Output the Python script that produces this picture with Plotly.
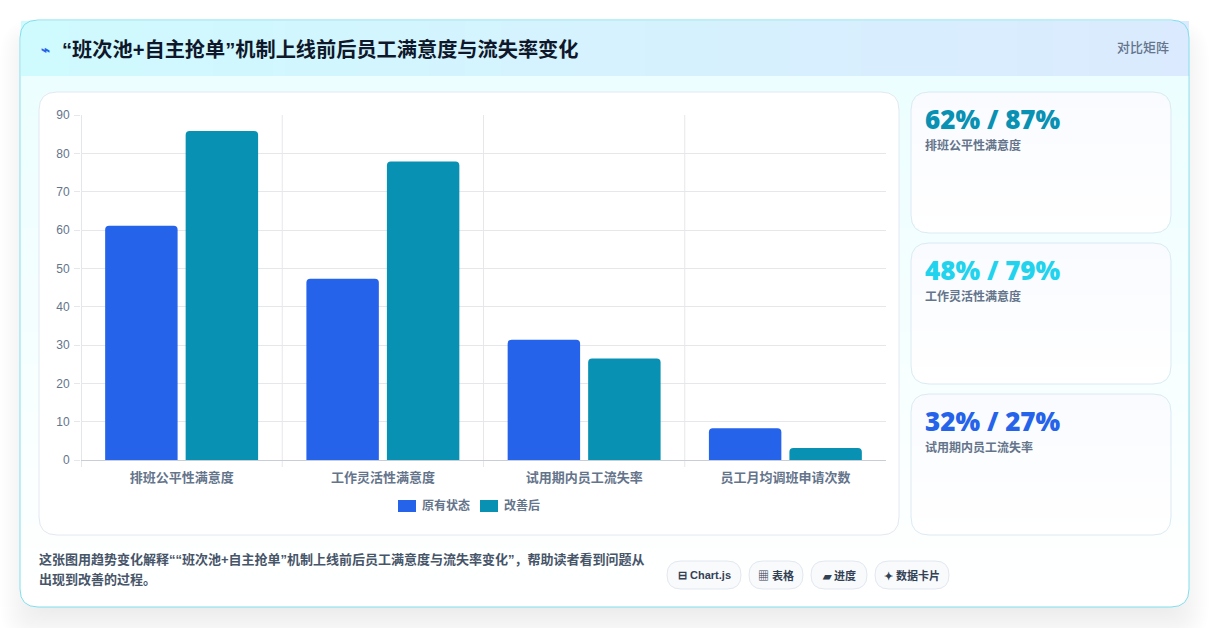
import plotly.graph_objects as go

W = 1210
H = 628

title = "“班次池+自主抢单”机制上线前后员工满意度与流失率变化"
badge = "对比矩阵"
note_lines = ["这张图用趋势变化解释““班次池+自主抢单”机制上线前后员工满意度与流失率变化”，帮助读者看到问题从", "出现到改善的过程。"]

categories = ["排班公平性满意度", "工作灵活性满意度", "试用期内员工流失率", "员工月均调班申请次数"]
before_name = "原有状态"
after_name = "改善后"
before = [61.1, 47.3, 31.4, 8.3]
after = [85.8, 77.9, 26.5, 3.1]
y_ticks = [0, 10, 20, 30, 40, 50, 60, 70, 80, 90]

card_values = ["62% / 87%", "48% / 79%", "32% / 27%"]
card_labels = ["排班公平性满意度", "工作灵活性满意度", "试用期内员工流失率"]
card_colors = ["#0891b2", "#22d3ee", "#2563eb"]
card_tops = [92, 243, 394]

chips = ["⊟ Chart.js", "▦ 表格", "▰ 进度", "✦ 数据卡片"]
chip_boxes = [(667, 741), (749, 803), (811, 867), (875, 949)]

CJK = "Liberation Sans, Noto Sans CJK SC, sans-serif"
BLUE = "#2563eb"
TEAL = "#0891b2"

shapes = []
annotations = []


def px(x):
    return x / W


def py(y):
    return 1 - y / H


def rounded(x0, y0, x1, y1, r):
    a, b, c, d = px(x0), py(y0), px(x1), py(y1)
    rx, ry = r / W, r / H
    return (f"M{a + rx},{b} L{c - rx},{b} Q{c},{b} {c},{b - ry} L{c},{d + ry} Q{c},{d} {c - rx},{d} "
            f"L{a + rx},{d} Q{a},{d} {a},{d + ry} L{a},{b - ry} Q{a},{b} {a + rx},{b} Z")


def box(x0, y0, x1, y1, r, fill="rgba(0,0,0,0)", line=None, opacity=1):
    shapes.append(dict(type="path", path=rounded(x0, y0, x1, y1, r), xref="paper", yref="paper",
                       fillcolor=fill, line=dict(color=line, width=1) if line else dict(width=0),
                       opacity=opacity, layer="below"))


def mix(c0, c1, t):
    a = [int(c0[i:i + 2], 16) for i in (1, 3, 5)]
    b = [int(c1[i:i + 2], 16) for i in (1, 3, 5)]
    return "rgb(%d,%d,%d)" % tuple(round(p + (q - p) * t) for p, q in zip(a, b))


def strip(x0, y0, x1, y1, color):
    shapes.append(dict(type="rect", x0=px(x0), x1=px(x1), y0=py(y0), y1=py(y1), xref="paper", yref="paper",
                       fillcolor=color, line=dict(width=0), layer="below"))


def vgrad(x0, y0, x1, y1, c0, c1, r=0, step=6):
    # css gradients are not available here, so stack thin strips and pull them in at the corners
    y = y0
    while y < y1:
        y2 = min(y + step, y1)
        mid = (y + y2) / 2
        t = (mid - y0) / (y1 - y0)
        inset = 0
        d = min(mid - y0, y1 - mid)
        if r and d < r:
            inset = r - (r * r - (r - d) ** 2) ** 0.5
        strip(x0 + inset, y, x1 - inset, y2, mix(c0, c1, t))
        y = y2


def hgrad(x0, y0, x1, y1, c0, c1, step=12):
    x = x0
    while x < x1:
        x2 = min(x + step, x1)
        strip(x, y0, x2, y1, mix(c0, c1, (x - x0) / (x1 - x0)))
        x = x2


def label(x, y, text, size, color, weight=400, anchor="left", family=CJK):
    annotations.append(dict(x=px(x), y=py(y), xref="paper", yref="paper", text=text, showarrow=False,
                            xanchor=anchor, yanchor="middle", align=anchor, borderpad=0, borderwidth=0,
                            font=dict(size=size, color=color, family=family, weight=weight)))


# soft shadow under the big card
for i in range(-20, 21, 2):
    box(20 - i, 38 - i, 1189 + i, 625 + i, 18 + max(i, 0), fill="#0f172a", opacity=0.0055)

# big card
box(20, 20, 1189, 607, 18, fill="#ffffff")
vgrad(21, 76, 1188, 592, "#ecfeff", "#ffffff", step=8)
vgrad(21, 592, 1188, 606.5, "#ffffff", "#ffffff", r=17, step=2)
hgrad(21, 21, 1189, 76, "#cffafe", "#dbeafe")
box(20, 20, 1189, 607, 18, line="#7fdfee")

# chart panel and side cards
box(39, 92, 899, 535, 18, fill="#ffffff", line="#e2e8f0")
for top in card_tops:
    vgrad(911, top, 1171, top + 141, "#f9fbff", "#ffffff", r=18, step=4)
    box(911, top, 1171, top + 141, 18, line="#dbeaf3")

label(41, 50, "⌁", 15, BLUE, 700)
label(62, 50, title, 20.2, "#0f172a", 700)
label(1169, 48, badge, 13, "#64748b", 500, anchor="right")

for top, value, text, color in zip(card_tops, card_values, card_labels, card_colors):
    label(925, top + 27, value, 26, color, 900, family="Noto Sans, sans-serif")
    label(925, top + 53, text, 12, "#64748b", 600)

label(39, 559, note_lines[0], 13, "#475569", 600)
label(39, 579, note_lines[1], 13, "#475569", 600)

for (x0, x1), text in zip(chip_boxes, chips):
    box(x0, 561, x1, 589, 14, fill="#f8fafc", line="#e2e8f0")
    label((x0 + x1) / 2, 575, text, 11, "#334155", 700, anchor="center")

# legend
strip(398, 500, 416, 512, BLUE)
label(422, 505, before_name, 12, "#64748b", 600)
strip(480, 500, 498, 512, TEAL)
label(504, 505, after_name, 12, "#64748b", 600)

# grid between the categories, and the tick below it
for i in range(len(categories)):
    shapes.append(dict(type="line", x0=i - 0.5, x1=i - 0.5, xref="x", y0=py(467), y1=py(115), yref="paper",
                       line=dict(color="#c8ced8" if i == 0 else "#e5e7eb", width=1), layer="below"))

fig = go.Figure()
fig.add_trace(go.Bar(x=categories, y=before, name=before_name, marker=dict(color=BLUE, cornerradius=4, line=dict(width=0))))
fig.add_trace(go.Bar(x=categories, y=after, name=after_name, marker=dict(color=TEAL, cornerradius=4, line=dict(width=0))))

fig.update_layout(
    width=W,
    height=H,
    margin=dict(l=0, r=0, t=0, b=0, autoexpand=False),
    paper_bgcolor="#ffffff",
    plot_bgcolor="rgba(0,0,0,0)",
    barmode="group",
    bargap=0.2,
    bargroupgap=0.1,
    showlegend=False,
    shapes=shapes,
    annotations=annotations,
    font=dict(family=CJK),
)
fig.update_xaxes(
    domain=[px(81), px(886)],
    type="category",
    range=[-0.5, 3.5],
    showgrid=False,
    zeroline=False,
    showline=False,
    ticks="",
    ticklabelstandoff=8,
    tickfont=dict(size=13, color="#64748b", family=CJK, weight=600),
)
fig.update_yaxes(
    domain=[py(460), py(115)],
    range=[0, 90],
    tickvals=y_ticks,
    showgrid=True,
    gridcolor="#e5e7eb",
    gridwidth=1,
    zeroline=True,
    zerolinecolor="#c8ced8",
    zerolinewidth=1,
    showline=False,
    ticks="outside",
    ticklen=6,
    tickcolor="#e5e7eb",
    ticklabelstandoff=2,
    tickfont=dict(size=12, color="#64748b", family="Liberation Sans, Arial, sans-serif"),
)

fig.write_html("out.html", config={"displayModeBar": False},
               post_script="document.body.style.margin='0';document.body.style.overflow='hidden';")
